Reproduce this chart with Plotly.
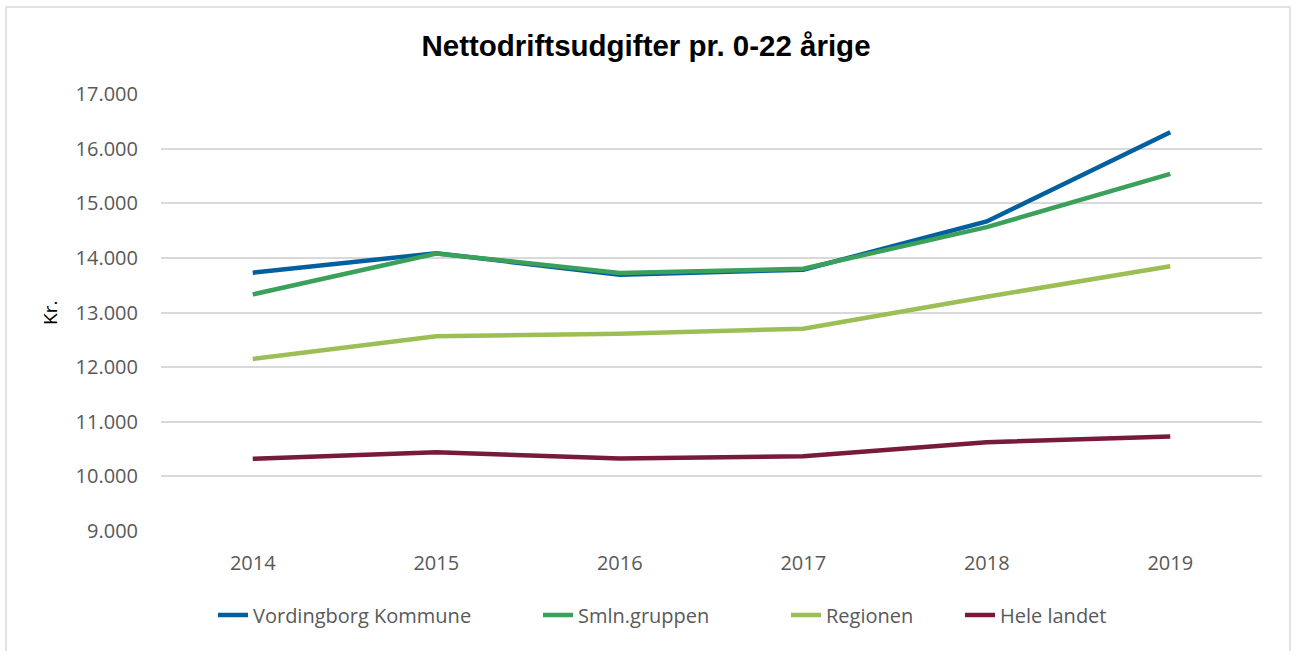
import plotly.graph_objects as go

years = ["2014", "2015", "2016", "2017", "2018", "2019"]
vordingborg = [13728, 14085, 13692, 13783, 14666, 16300]
smln = [13331, 14080, 13725, 13801, 14563, 15537]
regionen = [12150, 12563, 12612, 12704, 13289, 13845]
hele_landet = [10322, 10443, 10327, 10369, 10625, 10731]

series = [
    ("Vordingborg Kommune", vordingborg, "#005f9e"),
    ("Smln.gruppen", smln, "#3aa05a"),
    ("Regionen", regionen, "#9bbf55"),
    ("Hele landet", hele_landet, "#771a3c"),
]

W, H = 1292, 651
L, R, T, B = 161, 30, 94, 120
ph = H - T - B
pw = W - L - R

# legend text starting x positions in the reference (px)
legend_text_x = [253, 578, 826, 1000]
legend_names = ["legend", "legend2", "legend3", "legend4"]

fig = go.Figure()
for (name, vals, col), lg in zip(series, legend_names):
    fig.add_trace(go.Scatter(x=years, y=vals, name=name, mode="lines",
                             line=dict(color=col, width=4.5), legend=lg))

legend_y = (T + ph - 615) / ph
legends = {}
for lg, tx in zip(legend_names, legend_text_x):
    legends[lg] = dict(orientation="h", x=(tx - 40 - L) / pw, xanchor="left",
                       y=legend_y, yanchor="middle",
                       font=dict(size=20, color="#595959"),
                       bgcolor="rgba(0,0,0,0)", borderwidth=0)

fig.update_layout(
    width=W, height=H,
    margin=dict(l=L, r=R, t=T, b=B),
    paper_bgcolor="white", plot_bgcolor="white",
    separators=",.",
    title=dict(text="<b>Nettodriftsudgifter pr. 0-22 årige</b>",
               x=0.5, xanchor="center", xref="container", y=1 - 46 / H, yanchor="middle",
               font=dict(family="Liberation Sans, Arial", size=29.5, color="black")),
    font=dict(family="Open Sans", color="#595959"),
    showlegend=True,
    xaxis=dict(type="category", range=[-0.5, 5.5], showgrid=False, showline=False,
               zeroline=False, ticks="", tickfont=dict(size=20, color="#595959"),
               ticklabelstandoff=18),
    yaxis=dict(range=[9000, 17000], dtick=1000, tickformat=",d", showgrid=True,
               gridcolor="#d9d9d9", gridwidth=1.5, zeroline=False, showline=False,
               ticks="", tickfont=dict(size=20, color="#595959"),
               ticklabelstandoff=22),
    shapes=[dict(type="rect", xref="paper", yref="paper",
                 x0=(6 - L) / pw, x1=(1290 - L) / pw,
                 y0=(T + ph - 700) / ph, y1=(T + ph - 7) / ph,
                 line=dict(color="#d9d9d9", width=1.5), fillcolor="rgba(0,0,0,0)",
                 layer="below")],
    annotations=[dict(text="Kr.", textangle=-90, xref="paper", yref="paper",
                      x=(50 - L) / pw, y=(T + ph - 313) / ph, showarrow=False,
                      xanchor="center", yanchor="middle",
                      font=dict(family="Open Sans", size=19, color="black"))],
    **legends,
)

fig.write_html("out.html", config={"displayModeBar": False},
               post_script="document.body.style.margin='0';")
